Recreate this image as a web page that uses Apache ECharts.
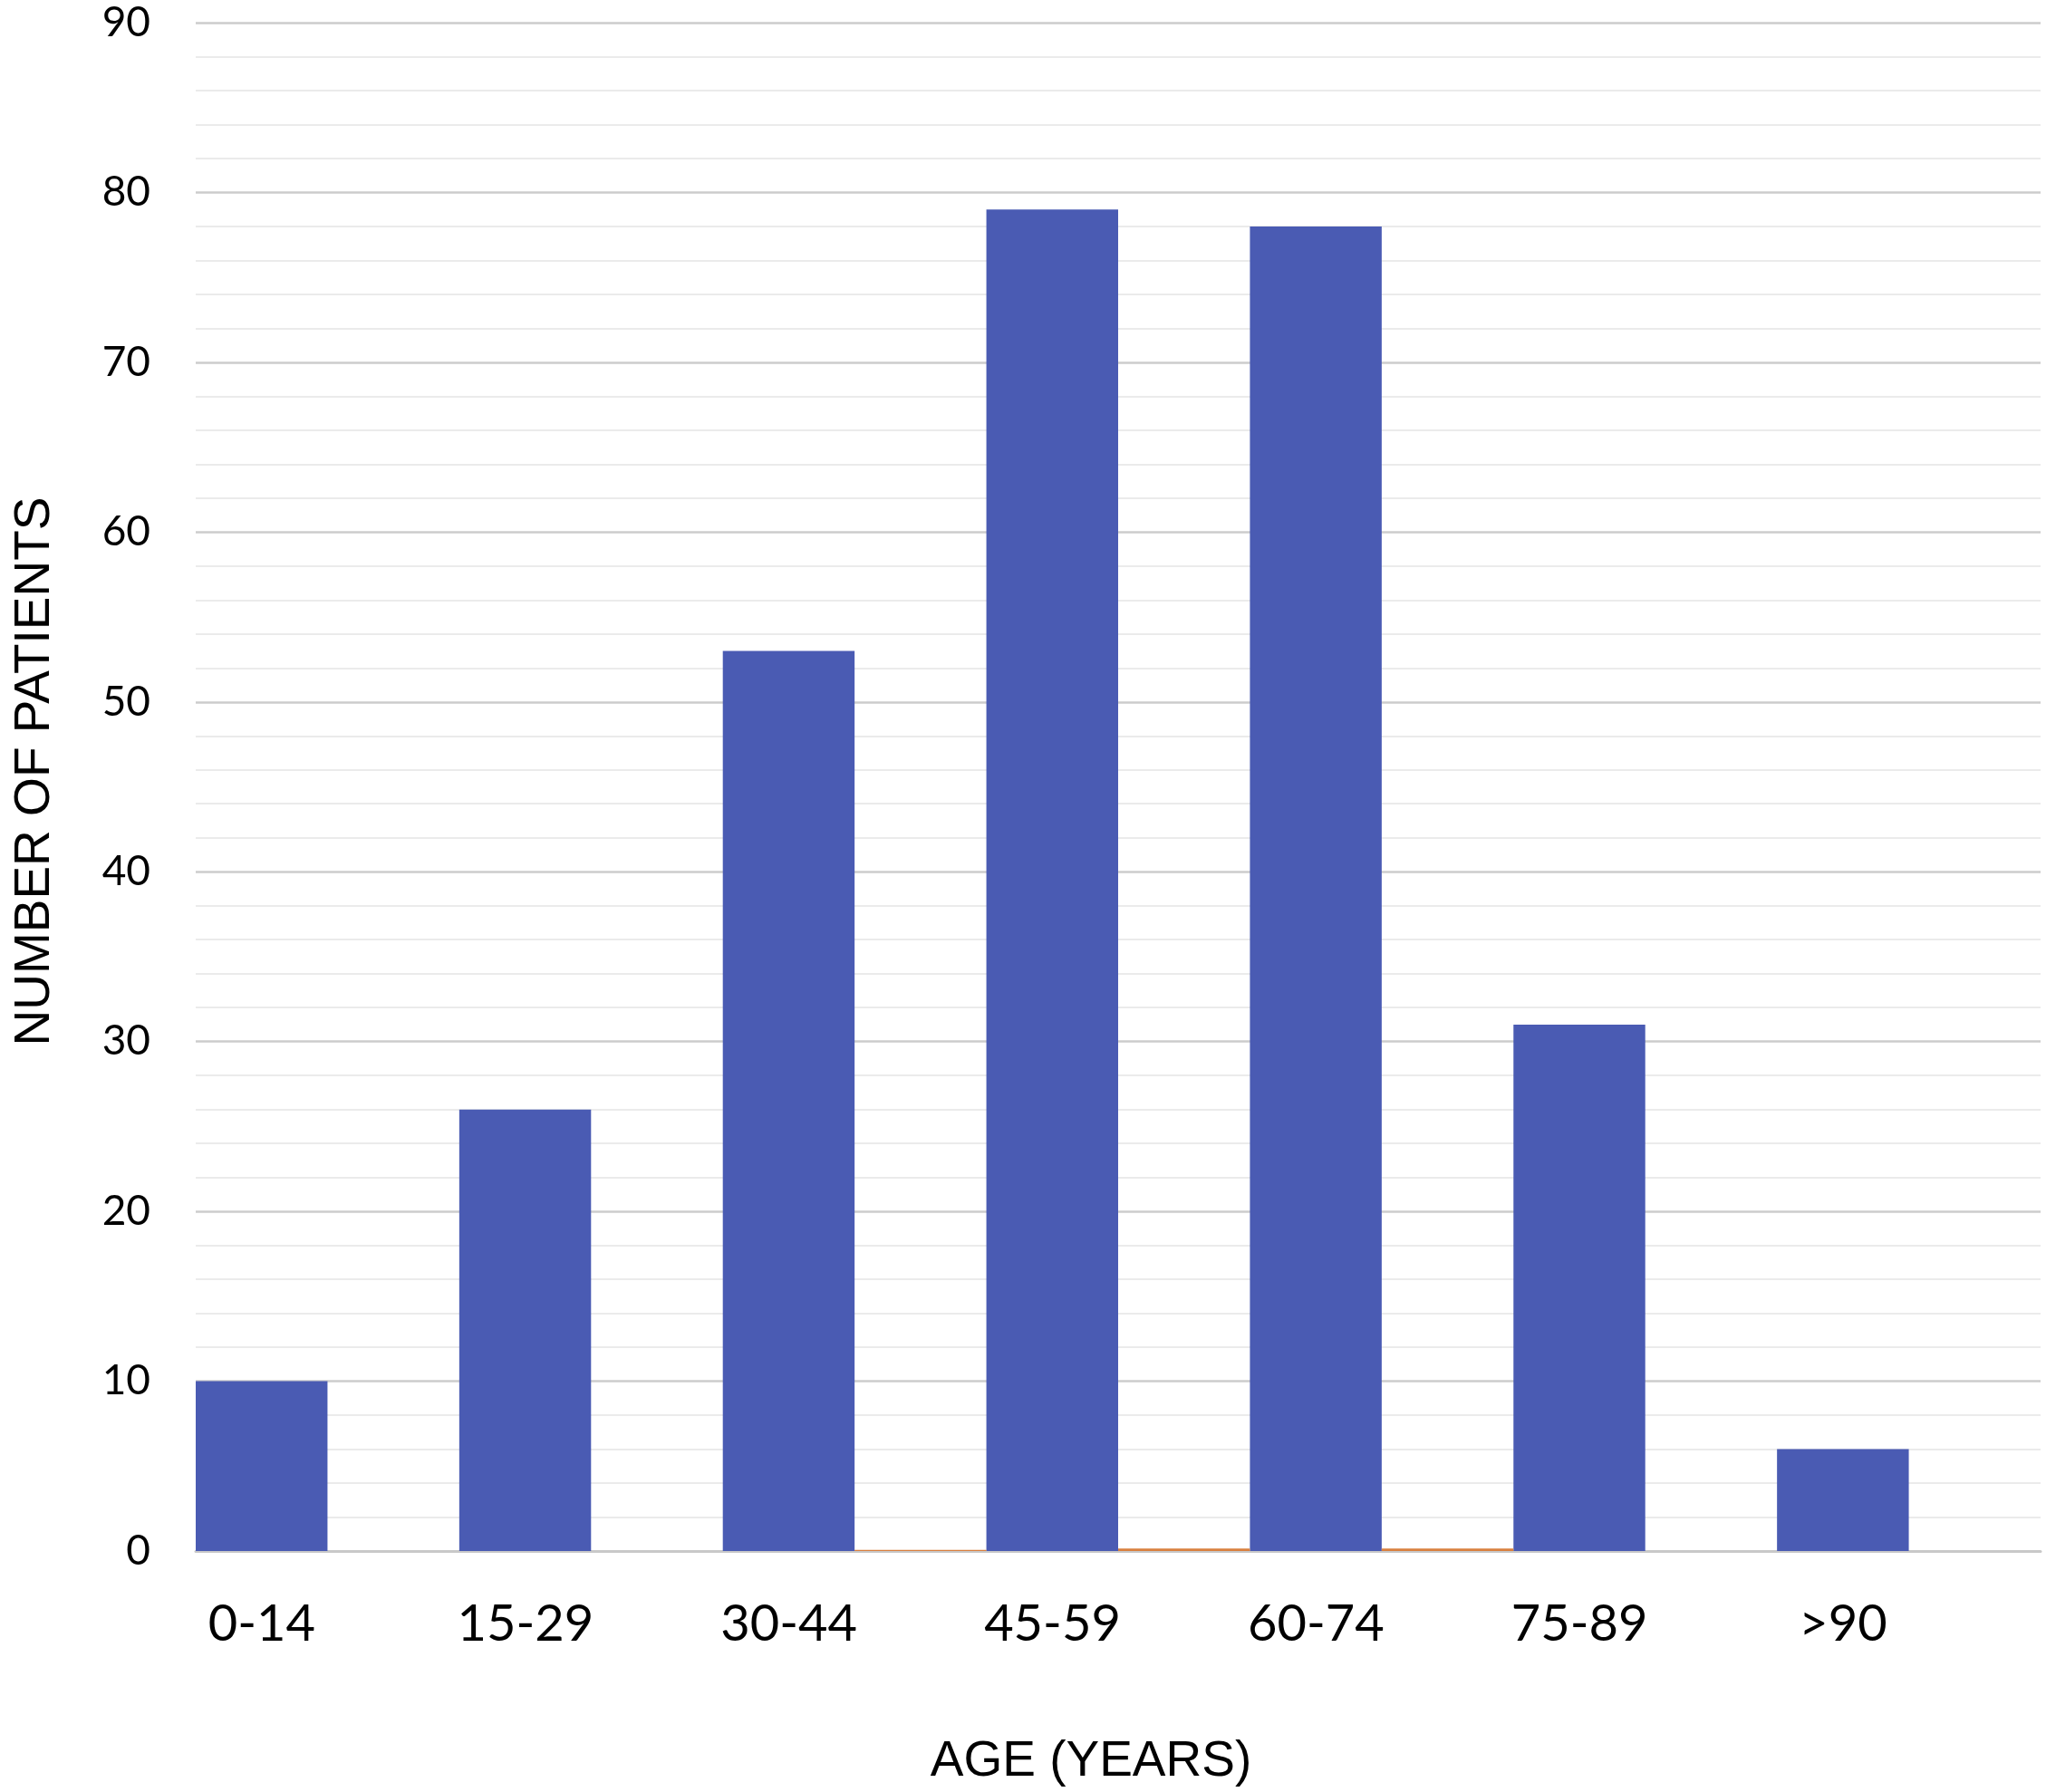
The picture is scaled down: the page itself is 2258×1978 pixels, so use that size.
<!DOCTYPE html>
<html>
<head>
<meta charset="utf-8">
<script src="https://cdn.jsdelivr.net/npm/echarts@6/dist/echarts.min.js"></script>
<style>
html,body{margin:0;padding:0;background:#fff;}
#c{width:2258px;height:1978px;}
</style>
</head>
<body>
<div id="c"></div>
<script>
const categories = ['0-14','15-29','30-44','45-59','60-74','75-89','>90'];
const patients = [10, 26, 53, 79, 78, 31, 6];
const secondSeries = [0, 0, 0.07, 0.15, 0.15, 0, 0];
const yTicks = [0, 90, 10];

const chart = echarts.init(document.getElementById('c'), null, {renderer:'canvas'});
chart.setOption({
  animation: false,
  backgroundColor: '#ffffff',
  grid: { left: 216, right: 6, top: 25, bottom: 266, containLabel: false },
  xAxis: {
    type: 'category',
    data: categories,
    axisLine: { show: true, lineStyle: { color: '#c8c8c8', width: 3 } },
    axisTick: { show: false },
    axisLabel: {
      fontFamily: 'Lato', fontSize: 56, color: '#000', margin: 53,
      lineHeight: 56, padding: [0, 145, 0, 0]
    },
    name: 'AGE (YEARS)',
    nameLocation: 'middle',
    nameGap: 205,
    nameTextStyle: { fontFamily: 'Liberation Sans', fontSize: 55, color: '#000', lineHeight: 55, padding: [0, 60, 0, 0] }
  },
  yAxis: {
    type: 'value',
    min: yTicks[0], max: yTicks[1], interval: yTicks[2],
    axisLine: { show: false },
    axisTick: { show: false },
    axisLabel: { fontFamily: 'Lato', fontSize: 46, color: '#000', margin: 50 },
    splitLine: { show: true, lineStyle: { color: '#cccccc', width: 2.5 } },
    minorTick: { show: false, splitNumber: 5 },
    minorSplitLine: { show: true, lineStyle: { color: '#ebebeb', width: 2 } },
    name: 'NUMBER OF PATIENTS',
    nameLocation: 'middle',
    nameGap: 150,
    nameTextStyle: { fontFamily: 'Liberation Sans', fontSize: 55, color: '#000', padding: [0, 0, 0, 34] }
  },
  series: [
    {
      type: 'bar', data: patients, barGap: '0%', barCategoryGap: '0%',
      itemStyle: { color: '#4A5BB3' }, z: 3
    },
    {
      type: 'bar', data: secondSeries, barGap: '0%', barCategoryGap: '0%',
      itemStyle: { color: '#D9803F' }, z: 3
    }
  ]
});
</script>
</body>
</html>
